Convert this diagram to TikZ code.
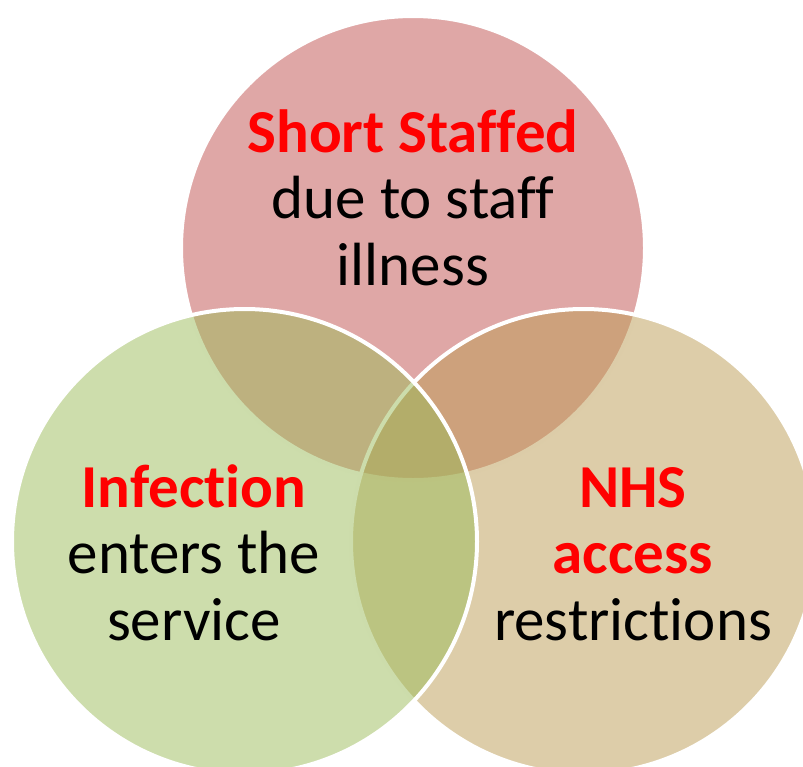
\documentclass[tikz,border=0pt]{standalone}
\usepackage{fontspec}
\setmainfont{Carlito}[Ligatures=NoCommon]
\definecolor{vred}{HTML}{C0504D}
\definecolor{vgreen}{HTML}{9BBB59}
\definecolor{vtan}{HTML}{BB9B53}
\definecolor{txtred}{HTML}{FF0000}
\begin{document}
\begin{tikzpicture}[x=1pt,y=-1pt,
  venn/.style={fill=#1,fill opacity=0.5,draw=white,draw opacity=1,line width=4pt},
  lbl/.style={anchor=base,inner sep=0pt,font=\fontsize{61}{66}\selectfont},
  hd/.style={lbl,text=txtred,font=\fontsize{61}{66}\selectfont\bfseries}]
\useasboundingbox (0,0) rectangle (803,766);
\clip (0,0) rectangle (803,766);
\coordinate (ct) at (413,248);
\coordinate (cr) at (583.5,541.5);
\coordinate (cl) at (244.5,541.5);
\draw[venn=vred] (ct) circle[radius=232];
\draw[venn=vtan] (cr) circle[radius=232.5];
\draw[venn=vgreen] (cl) circle[radius=232.5];
\node[hd] (t1) at (413,152) {Short Staffed};
\node[lbl] (t2) at (413,218) {due to staff};
\node[lbl] (t3) at (413,285) {illness};
\node[hd] (l1) at (194,507) {Infection};
\node[lbl] (l2) at (194,573) {enters the};
\node[lbl] (l3) at (194,640) {service};
\node[hd] (r1) at (633,507) {NHS};
\node[hd] (r2) at (633,573) {access};
\node[lbl] (r3) at (633,640) {restrictions};
\end{tikzpicture}
\end{document}
